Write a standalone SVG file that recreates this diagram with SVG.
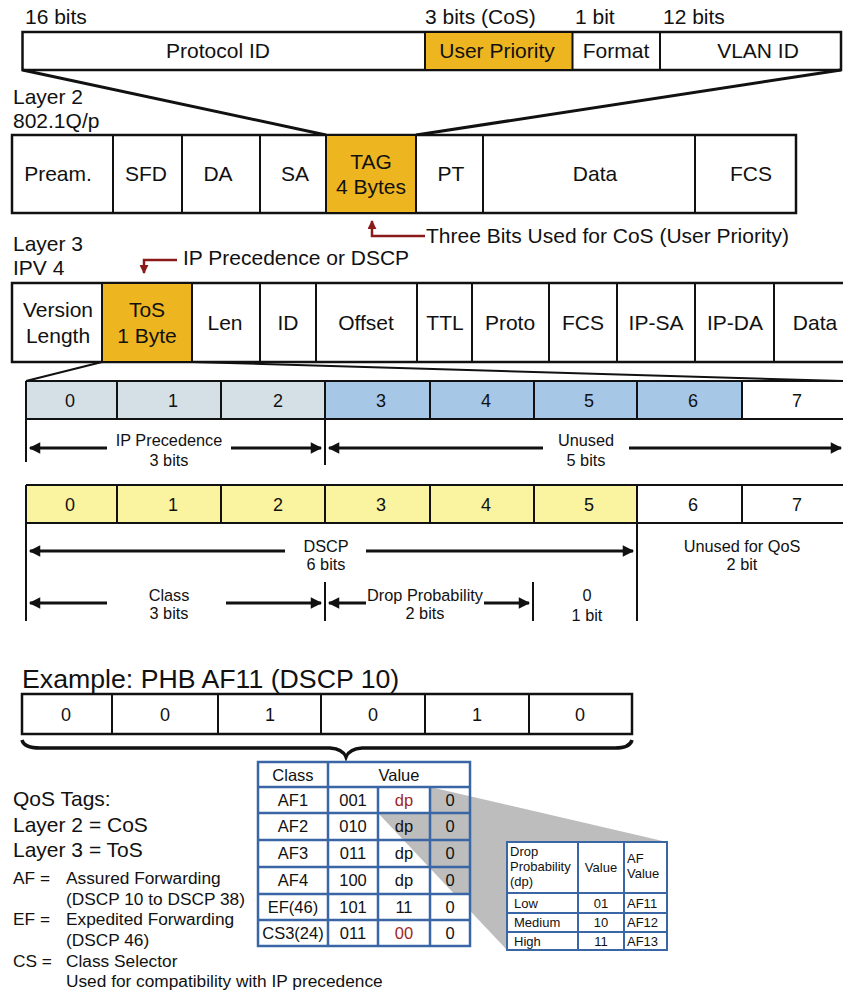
<svg xmlns="http://www.w3.org/2000/svg" width="843" height="993" viewBox="0 0 843 993">
<defs>
<style>
text{font-family:"Liberation Sans",Arial,sans-serif;fill:#111}
.m{text-anchor:middle}
.f21{font-size:21px}
.f18{font-size:18px}
.f16{font-size:16.3px}
.f17{font-size:17.3px}
.box{fill:#fff;stroke:#111;stroke-width:2.5}
.cell{stroke:#111;stroke-width:2}
.ora{fill:#EDB520}
.ln{stroke:#111;stroke-width:2;fill:none}
.arr{stroke:#111;stroke-width:3;fill:none}
.red{stroke:#8B1A1A;stroke-width:2.5;fill:none}
.tb{stroke:#3A66A6;stroke-width:2.5;fill:none}
.tb2{stroke:#3A66A6;stroke-width:2;fill:none}
.t15{font-size:16.5px}
.t11{font-size:13px}
</style>
<marker id="ah" viewBox="0 0 10 10" refX="9" refY="5" markerWidth="4.3" markerHeight="3.8" orient="auto-start-reverse" markerUnits="strokeWidth"><path d="M0,0 L10,5 L0,10 z" fill="#111"/></marker>
<marker id="rh" viewBox="0 0 10 10" refX="9" refY="5" markerWidth="3.6" markerHeight="3.6" orient="auto" markerUnits="strokeWidth"><path d="M0,0 L10,5 L0,10 z" fill="#8B1A1A"/></marker>
</defs>

<!-- 802.1Q tag header -->
<g id="tag-fields">
<text x="25" y="24" class="f21">16 bits</text>
<text x="425" y="24" class="f21">3 bits (CoS)</text>
<text x="575" y="24" class="f21">1 bit</text>
<text x="663" y="24" class="f21">12 bits</text>
<rect x="22.5" y="32" width="818.5" height="38" class="box"/>
<rect x="425" y="32" width="147.5" height="38" class="ora cell"/>
<line x1="660" y1="32" x2="660" y2="70" class="cell"/>
<text x="218" y="58" class="m f21">Protocol ID</text>
<text x="497" y="58" class="m f21">User Priority</text>
<text x="616" y="58" class="m f21">Format</text>
<text x="758" y="58" class="m f21">VLAN ID</text>
</g>

<g id="connectors">
<line x1="22.5" y1="70" x2="326" y2="135" class="arr"/>
<line x1="841" y1="70" x2="416" y2="135" class="arr"/>
<line x1="102" y1="362" x2="26" y2="381" class="ln" stroke-width="1.5"/>
<line x1="192" y1="362" x2="843" y2="381" class="ln" stroke-width="1.5"/>
<polyline points="425,236 372,236 372,221" class="red" marker-end="url(#rh)"/>
<polyline points="177,260 144,260 144,273" class="red" marker-end="url(#rh)"/>
</g>

<g id="layer2-label">
<text x="13" y="104" class="f21">Layer 2</text>
<text x="13" y="128" class="f21">802.1Q/p</text>
</g>

<g id="layer2-frame">
<rect x="12" y="135" width="784" height="78" class="box"/>
<rect x="326" y="135" width="90" height="78" class="ora cell"/>
<line x1="113" y1="135" x2="113" y2="213" class="cell"/>
<line x1="182" y1="135" x2="182" y2="213" class="cell"/>
<line x1="260" y1="135" x2="260" y2="213" class="cell"/>
<line x1="483" y1="135" x2="483" y2="213" class="cell"/>
<line x1="695" y1="135" x2="695" y2="213" class="cell"/>
<text x="58" y="181" class="m f21">Pream.</text>
<text x="146" y="181" class="m f21">SFD</text>
<text x="218" y="181" class="m f21">DA</text>
<text x="295" y="181" class="m f21">SA</text>
<text x="371" y="169" class="m f21">TAG</text>
<text x="371" y="194" class="m f21">4 Bytes</text>
<text x="451" y="181" class="m f21">PT</text>
<text x="595" y="181" class="m f21">Data</text>
<text x="751" y="181" class="m f21">FCS</text>
</g>

<g id="cos-note">
<text x="426" y="243" class="f21">Three Bits Used for CoS (User Priority)</text>
</g>

<g id="layer3-label">
<text x="13" y="251" class="f21">Layer 3</text>
<text x="13" y="275" class="f21">IPV 4</text>
<text x="183" y="265" class="f21">IP Precedence or DSCP</text>
</g>

<g id="layer3-frame">
<rect x="12" y="283" width="835" height="79" class="box"/>
<rect x="102" y="283" width="90" height="79" class="ora cell"/>
<line x1="260" y1="283" x2="260" y2="362" class="cell"/>
<line x1="316" y1="283" x2="316" y2="362" class="cell"/>
<line x1="417" y1="283" x2="417" y2="362" class="cell"/>
<line x1="472" y1="283" x2="472" y2="362" class="cell"/>
<line x1="549" y1="283" x2="549" y2="362" class="cell"/>
<line x1="617" y1="283" x2="617" y2="362" class="cell"/>
<line x1="695" y1="283" x2="695" y2="362" class="cell"/>
<line x1="774" y1="283" x2="774" y2="362" class="cell"/>
<text x="58" y="317" class="m f21">Version</text>
<text x="58" y="343" class="m f21">Length</text>
<text x="147" y="317" class="m f21">ToS</text>
<text x="147" y="343" class="m f21">1 Byte</text>
<text x="225" y="330" class="m f21">Len</text>
<text x="288" y="330" class="m f21">ID</text>
<text x="366" y="330" class="m f21">Offset</text>
<text x="445" y="330" class="m f21">TTL</text>
<text x="510" y="330" class="m f21">Proto</text>
<text x="583" y="330" class="m f21">FCS</text>
<text x="656" y="330" class="m f21">IP-SA</text>
<text x="735" y="330" class="m f21">IP-DA</text>
<text x="815" y="330" class="m f21">Data</text>
</g>

<g id="ip-precedence-bits">
<rect x="26" y="381" width="299" height="38" fill="#D4E0E6"/>
<rect x="325" y="381" width="417" height="38" fill="#A7C7E7"/>
<rect x="742" y="381" width="105" height="38" fill="#fff"/>
<path d="M26,381 H847 M26,419 H847 M26,381 V419 M117,381 V419 M221,381 V419 M325,381 V419 M430,381 V419 M534,381 V419 M637,381 V419 M742,381 V419" class="cell"/>
<text x="70" y="407" class="m f18">0</text>
<text x="173" y="407" class="m f18">1</text>
<text x="278" y="407" class="m f18">2</text>
<text x="381" y="407" class="m f18">3</text>
<text x="486" y="407" class="m f18">4</text>
<text x="589" y="407" class="m f18">5</text>
<text x="693" y="407" class="m f18">6</text>
<text x="797" y="407" class="m f18">7</text>
<line x1="26" y1="419" x2="26" y2="462" class="ln"/>
<line x1="325" y1="419" x2="325" y2="465" class="ln"/>
<line x1="107" y1="448" x2="30" y2="448" class="arr" marker-end="url(#ah)"/>
<line x1="231" y1="448" x2="321" y2="448" class="arr" marker-end="url(#ah)"/>
<line x1="543" y1="448" x2="329" y2="448" class="arr" marker-end="url(#ah)"/>
<line x1="629" y1="448" x2="841" y2="448" class="arr" marker-end="url(#ah)"/>
<text x="169" y="446" class="m f16">IP Precedence</text>
<text x="169" y="466" class="m f16">3 bits</text>
<text x="586" y="446" class="m f16">Unused</text>
<text x="586" y="466" class="m f16">5 bits</text>
</g>

<g id="dscp-bits">
<rect x="26" y="485" width="611" height="38" fill="#FAF3A0"/>
<path d="M26,485 H847 M26,523 H847 M26,485 V523 M117,485 V523 M221,485 V523 M325,485 V523 M430,485 V523 M534,485 V523 M637,485 V523 M742,485 V523" class="cell"/>
<text x="70" y="511" class="m f18">0</text>
<text x="173" y="511" class="m f18">1</text>
<text x="278" y="511" class="m f18">2</text>
<text x="381" y="511" class="m f18">3</text>
<text x="486" y="511" class="m f18">4</text>
<text x="589" y="511" class="m f18">5</text>
<text x="693" y="511" class="m f18">6</text>
<text x="797" y="511" class="m f18">7</text>
<line x1="26" y1="523" x2="26" y2="621" class="ln"/>
<line x1="637" y1="523" x2="637" y2="621" class="ln"/>
<line x1="325" y1="582" x2="325" y2="621" class="ln"/>
<line x1="533" y1="582" x2="533" y2="621" class="ln"/>
<line x1="285" y1="551" x2="30" y2="551" class="arr" marker-end="url(#ah)"/>
<line x1="366" y1="551" x2="633" y2="551" class="arr" marker-end="url(#ah)"/>
<text x="326" y="552" class="m f16">DSCP</text>
<text x="326" y="570" class="m f16">6 bits</text>
<text x="742" y="552" class="m f16">Unused for QoS</text>
<text x="742" y="570" class="m f16">2 bit</text>
<line x1="107" y1="603" x2="30" y2="603" class="arr" marker-end="url(#ah)"/>
<line x1="226" y1="603" x2="321" y2="603" class="arr" marker-end="url(#ah)"/>
<line x1="366" y1="603" x2="329" y2="603" class="arr" marker-end="url(#ah)"/>
<line x1="484" y1="603" x2="529" y2="603" class="arr" marker-end="url(#ah)"/>
<text x="169" y="601" class="m f16">Class</text>
<text x="169" y="619" class="m f16">3 bits</text>
<text x="425" y="601" class="m f16">Drop Probability</text>
<text x="425" y="619" class="m f16">2 bits</text>
<text x="587" y="601" class="m f16">0</text>
<text x="587" y="621" class="m f16">1 bit</text>
</g>

<g id="example">
<text x="22" y="688" font-size="26.7">Example: PHB AF11 (DSCP 10)</text>
<rect x="22" y="694" width="610" height="40" class="box"/>
<path d="M112,694 V734 M218,694 V734 M321,694 V734 M425,694 V734 M529,694 V734" class="cell"/>
<text x="66" y="721" class="m f18">0</text>
<text x="165" y="721" class="m f18">0</text>
<text x="270" y="721" class="m f18">1</text>
<text x="373" y="721" class="m f18">0</text>
<text x="477" y="721" class="m f18">1</text>
<text x="580" y="721" class="m f18">0</text>
<path d="M22,740 Q24,748 40,748 L330,748 Q343,749 346,757 Q349,749 362,748 L615,748 Q630,748 632,740" fill="none" stroke="#111" stroke-width="3.5"/>
</g>

<g id="legend">
<text x="13" y="806" class="f21">QoS Tags:</text>
<text x="13" y="832" class="f21">Layer 2 = CoS</text>
<text x="13" y="857" class="f21">Layer 3 = ToS</text>
<text x="13" y="884" class="f17">AF =</text>
<text x="66" y="884" class="f17">Assured Forwarding</text>
<text x="66" y="905" class="f17">(DSCP 10 to DSCP 38)</text>
<text x="13" y="925" class="f17">EF =</text>
<text x="66" y="925" class="f17">Expedited Forwarding</text>
<text x="66" y="946" class="f17">(DSCP 46)</text>
<text x="13" y="967" class="f17">CS =</text>
<text x="66" y="967" class="f17">Class Selector</text>
<text x="66" y="987" class="f17">Used for compatibility with IP precedence</text>
</g>

<g id="class-table">
<rect x="258" y="762" width="212" height="184" fill="#fff"/>
<polygon points="430,787 667,842 507,950 378,813 430,813" fill="#BDBDBD"/>
<rect x="259" y="894" width="210" height="51" fill="#fff"/>
<rect x="258" y="762" width="212" height="184" class="tb"/>
<path d="M258,787 H470 M258,813 H470 M258,840 H470 M258,867 H470 M258,894 H470 M258,920 H470 M328,762 V946 M378,787 V946 M430,787 V946" class="tb"/>
<text x="293" y="781" class="m t15">Class</text>
<text x="399" y="781" class="m t15">Value</text>
<text x="293" y="806" class="m t15">AF1</text>
<text x="353" y="806" class="m t15">001</text>
<text x="404" y="806" class="m t15" style="fill:#A0281E">dp</text>
<text x="450" y="806" class="m t15">0</text>
<text x="293" y="832" class="m t15">AF2</text>
<text x="353" y="832" class="m t15">010</text>
<text x="404" y="832" class="m t15">dp</text>
<text x="450" y="832" class="m t15">0</text>
<text x="293" y="859" class="m t15">AF3</text>
<text x="353" y="859" class="m t15">011</text>
<text x="404" y="859" class="m t15">dp</text>
<text x="450" y="859" class="m t15">0</text>
<text x="293" y="886" class="m t15">AF4</text>
<text x="353" y="886" class="m t15">100</text>
<text x="404" y="886" class="m t15">dp</text>
<text x="450" y="886" class="m t15">0</text>
<text x="293" y="913" class="m t15">EF(46)</text>
<text x="353" y="913" class="m t15">101</text>
<text x="404" y="913" class="m t15">11</text>
<text x="450" y="913" class="m t15">0</text>
<text x="293" y="939" class="m t15">CS3(24)</text>
<text x="353" y="939" class="m t15">011</text>
<text x="404" y="939" class="m t15" style="fill:#A0281E">00</text>
<text x="450" y="939" class="m t15">0</text>
</g>

<g id="dp-table">
<rect x="507" y="842" width="160" height="108" fill="#fff"/>
<rect x="507" y="842" width="160" height="108" class="tb2"/>
<path d="M507,893 H667 M507,913 H667 M507,932 H667 M578,842 V950 M624,842 V950" class="tb2"/>
<text x="510" y="856" class="t11">Drop</text>
<text x="510" y="871" class="t11">Probability</text>
<text x="510" y="886" class="t11">(dp)</text>
<text x="601" y="872" class="m t11">Value</text>
<text x="627" y="863" class="t11">AF</text>
<text x="627" y="878" class="t11">Value</text>
<text x="514" y="908" class="t11">Low</text>
<text x="601" y="908" class="m t11">01</text>
<text x="627" y="908" class="t11">AF11</text>
<text x="514" y="927" class="t11">Medium</text>
<text x="601" y="927" class="m t11">10</text>
<text x="627" y="927" class="t11">AF12</text>
<text x="514" y="946" class="t11">High</text>
<text x="601" y="946" class="m t11">11</text>
<text x="627" y="946" class="t11">AF13</text>
</g>
</svg>
